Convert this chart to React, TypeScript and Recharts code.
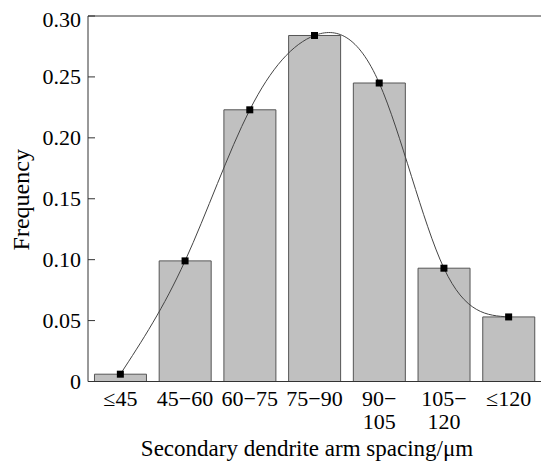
import React from "react";
import { ComposedChart, Bar, Line, XAxis, YAxis, ReferenceLine, Label } from "recharts";

const categories = ["≤45", "45−60", "60−75", "75−90", "90−\n105", "105−\n120", "≤120"];
const frequency = [0.006, 0.099, 0.223, 0.284, 0.245, 0.093, 0.053];
const yTicks = [0, 0.05, 0.1, 0.15, 0.2, 0.25, 0.3];

const data = categories.map((c, i) => ({ name: c, freq: frequency[i] }));

const FONT = '"Liberation Serif", "Times New Roman", serif';

const SquareDot = (props: any) => {
  const { cx, cy } = props;
  if (cx == null || cy == null) return null;
  return <rect x={cx - 3.5} y={cy - 3.5} width={7} height={7} fill="#000" />;
};

const XTick = (props: any) => {
  const { x, y, payload } = props;
  const lines = String(payload.value).split("\n");
  return (
    <g>
      {lines.map((l, i) => (
        <text
          key={i}
          x={x}
          y={y + 24.5 + i * 22.5}
          textAnchor="middle"
          fontFamily={FONT}
          fontSize={22}
          fill="#000"
        >
          {l}
        </text>
      ))}
    </g>
  );
};

const YTick = (props: any) => {
  const { x, y, payload } = props;
  const v = payload.value as number;
  const label = v === 0 ? "0" : v.toFixed(2);
  return (
    <g>
      <line x1={x} x2={x + 7} y1={y} y2={y} stroke="#333" strokeWidth={1} />
      <text x={x - 7} y={y + (v === 0.3 ? 10.5 : 7.5)} textAnchor="end" fontFamily={FONT} fontSize={22} fill="#000">
        {label}
      </text>
    </g>
  );
};

const YLabel = (props: any) => {
  const vb = props.viewBox || { x: 0, y: 0, width: 0, height: 0 };
  const cy = vb.y + vb.height / 2 + 1;
  const cx = 28.5;
  return (
    <text
      x={cx}
      y={cy}
      transform={`rotate(-90, ${cx}, ${cy})`}
      textAnchor="middle"
      fontFamily={FONT}
      fontSize={24}
      fill="#000"
    >
      Frequency
    </text>
  );
};

const XLabel = () => {
  return (
    <text x={307} y={456} textAnchor="middle" fontFamily={FONT} fontSize={23} fill="#000">
      Secondary dendrite arm spacing/μm
    </text>
  );
};

export default function App() {
  return (
    <div style={{ width: 541, height: 462, background: "#fff" }}>
      <style>{"body{margin:0;}"}</style>
      <ComposedChart
        width={541}
        height={462}
        data={data}
        margin={{ top: 16, right: 0, bottom: 0, left: 0 }}
        barCategoryGap="10%"
      >
        <XAxis
          dataKey="name"
          height={80.5}
          interval={0}
          tickLine={false}
          tickSize={0}
          tickMargin={0}
          tick={<XTick />}
          axisLine={{ stroke: "#333", strokeWidth: 1 }}
        >
          <Label content={<XLabel />} />
        </XAxis>
        <YAxis
          width={88}
          domain={[0, 0.3]}
          ticks={yTicks}
          tickLine={false}
          tickSize={0}
          tickMargin={0}
          tick={<YTick />}
          axisLine={{ stroke: "#333", strokeWidth: 1 }}
        >
          <Label content={<YLabel />} />
        </YAxis>
        <ReferenceLine y={0.3} stroke="#333" strokeWidth={1} />
        <Bar dataKey="freq" fill="#c0c0c0" stroke="#555" strokeWidth={1} isAnimationActive={false} />
        <Line
          dataKey="freq"
          type="natural"
          stroke="#444"
          strokeWidth={1}
          dot={<SquareDot />}
          activeDot={false}
          isAnimationActive={false}
        />
      </ComposedChart>
    </div>
  );
}
